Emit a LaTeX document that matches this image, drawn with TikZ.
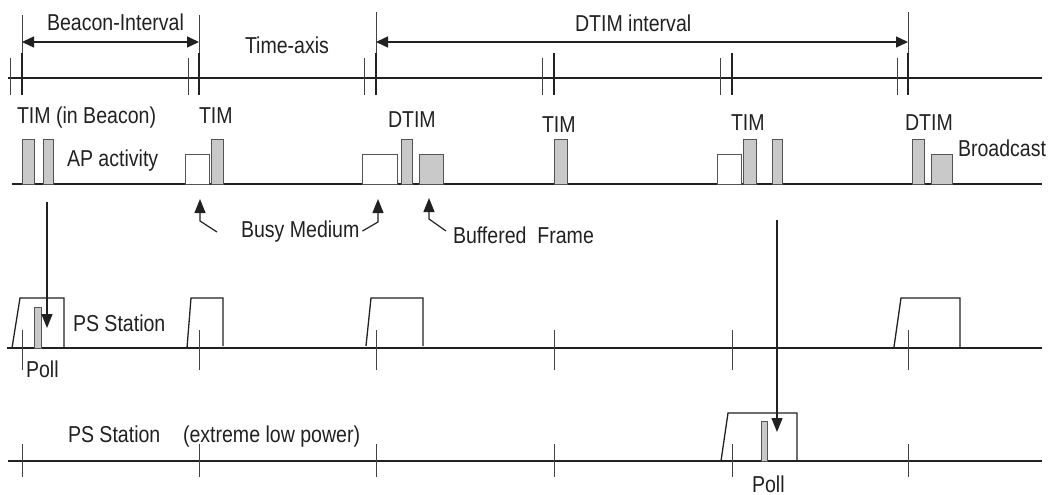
\documentclass[tikz,border=0pt]{standalone}
\usepackage{fontspec}
\setmainfont{Liberation Sans}[FakeStretch=0.85]
\usetikzlibrary{arrows.meta}
\definecolor{inkgray}{gray}{0.13}
\definecolor{barfill}{gray}{0.79}
\definecolor{baredge}{gray}{0.33}

\begin{document}
\begin{tikzpicture}[
    x=1pt, y=-1pt,
    every node/.style={font=\fontsize{23}{26}\selectfont, inner sep=0pt, outer sep=0pt, text=inkgray},
    axisline/.style ={draw=inkgray, line width=1.6pt},
    tickthin/.style ={draw=inkgray!85, line width=0.9pt},
    tickthick/.style={draw=inkgray, line width=1.8pt},
    timbar/.style   ={draw=baredge, fill=barfill, line width=0.9pt, anchor=south west, minimum height=45pt},
    busybox/.style  ={draw=baredge, fill=white, line width=0.9pt, anchor=south west, minimum height=30pt},
    framebox/.style ={draw=baredge, fill=barfill, line width=0.9pt, anchor=south west, minimum height=30pt},
    pollbar/.style  ={draw=baredge, fill=barfill, line width=0.9pt, anchor=south west},
    wake/.style     ={draw=inkgray, line width=1.3pt},
    pointer/.style  ={-{Triangle[length=14pt, width=11pt]}, draw=inkgray, line width=1.2pt},
    span/.style     ={{Triangle[length=12pt, width=11pt]}-{Triangle[length=12pt, width=11pt]}, draw=inkgray, line width=1.4pt},
    lbl/.style      ={anchor=base west}
]
\useasboundingbox (0,0) rectangle (1050,495);

% ========== TIME AXIS ==========
\coordinate (b1) at (22,78);
\coordinate (b2) at (199,78);
\coordinate (b3) at (376,78);
\coordinate (b4) at (554,78);
\coordinate (b5) at (732,78);
\coordinate (b6) at (908,78);
\draw[axisline] (8,78) -- (1042,78);
\foreach \a/\i in {10/1,188/2,364/3,542/4,720/5,897/6} {
  \draw[tickthin] (\a,58) -- (\a,95);
  \draw[tickthick] ([yshift=25pt]b\i) -- ([yshift=-17pt]b\i);
}
% interval boundaries
\draw[tickthin] ([yshift=63pt]b1) -- ([yshift=25pt]b1);
\draw[tickthin] ([yshift=63pt]b2) -- ([yshift=25pt]b2);
\draw[tickthin] ([yshift=66pt]b3) -- ([yshift=25pt]b3);
\draw[tickthin] ([yshift=66pt]b6) -- ([yshift=25pt]b6);
\draw[span] ([yshift=36pt]b1) -- ([yshift=36pt]b2);
\draw[span] ([yshift=36pt]b3) -- ([yshift=36pt]b6);

\node[lbl] (bilbl)   at (47,31)  {Beacon-Interval};
\node[lbl] (axislbl) at (245,54) {Time-axis};
\node[lbl] (dtimlbl) at (575,32) {DTIM interval};

% ========== AP ACTIVITY ==========
\draw[axisline] (12,184) -- (1042,184);
\node[timbar, minimum width=12pt] (tim1)  at (22,184)  {};
\node[timbar, minimum width=10pt] (tim1b) at (43,184)  {};
\node[busybox, minimum width=24pt] (busy1) at (185,184) {};
\node[timbar, minimum width=12pt] (tim2)  at (211,184) {};
\node[busybox, minimum width=35pt] (busy2) at (362,184) {};
\node[timbar, minimum width=11pt] (dtim1) at (401,184) {};
\node[framebox, minimum width=24pt] (buf1) at (419,184) {};
\node[timbar, minimum width=13pt] (tim3)  at (554,184) {};
\node[busybox, minimum width=24pt] (busy3) at (717,184) {};
\node[timbar, minimum width=13pt] (tim4)  at (743,184) {};
\node[timbar, minimum width=10pt] (tim4b) at (772,184) {};
\node[timbar, minimum width=12pt] (dtim2) at (912,184) {};
\node[framebox, minimum width=21pt] (bcast) at (931,184) {};

\node[lbl] (timlbl1)  at (17,124)  {TIM (in Beacon)};
\node[lbl] (timlbl2)  at (199,124) {TIM};
\node[lbl] (aplbl)    at (67,166)  {AP activity};
\node[lbl] (dtimlbl1) at (388,127) {DTIM};
\node[lbl] (timlbl3)  at (542,132) {TIM};
\node[lbl] (timlbl4)  at (731,130) {TIM};
\node[lbl] (dtimlbl2) at (905,130) {DTIM};
\node[lbl] (bcastlbl) at (958,156) {Broadcast};

% pointers to the medium
\node[lbl] (busylbl) at (241,237) {Busy Medium};
\node[lbl] (buflbl)  at (453,243) {Buffered\ \ Frame};
\coordinate (busytail1) at (217,232);
\coordinate (busybend1) at (200,221);
\coordinate (busybend2) at (378,222);
\coordinate (buftail)   at (446,231);
\coordinate (bufbend)   at (429,219);
\draw[pointer, shorten >=15pt] (busytail1) -- (busybend1) -- (busybend1 |- busy1.south);
\draw[pointer, shorten >=15pt] ([xshift=3pt]busylbl.east) -- (busybend2) -- (busybend2 |- busy2.south);
\draw[pointer, shorten >=14pt] (buftail) -- (bufbend) -- (bufbend |- buf1.south);

% ========== PS STATION ==========
\draw[axisline] (7,348) -- (1042,348);
\foreach \i in {1,...,6}
  \draw[tickthin] (b\i |- 0,330) -- (b\i |- 0,370);
\draw[wake] (12,348) -- (20,298) -- (64,298) -- (64,348);
\draw[wake] (187,348) -- (191,298) -- (223,298) -- (223,346);
\draw[wake] (366,346) -- (371,298) -- (423,298) -- (423,346);
\draw[wake] (894,347) -- (901,298) -- (960,298) -- (960,348);
\node[pollbar, minimum width=7pt, minimum height=41pt] (poll1) at (34,348) {};
\node[lbl] (pslbl1)   at (73,331) {PS Station};
\node[lbl] (polllbl1) at (26,377) {Poll};
\coordinate (poll1tip) at (47,328);
\draw[pointer, shorten <=18pt] (tim1b.south -| poll1tip) -- (poll1tip);

% ========== PS STATION (extreme low power) ==========
\draw[axisline] (8,461) -- (1042,461);
\foreach \i in {1,...,6}
  \draw[tickthin] (b\i |- 0,444) -- (b\i |- 0,477);
\draw[wake] (721,461) -- (728,413) -- (797,413) -- (797,461);
\node[pollbar, minimum width=6pt, minimum height=40pt] (poll2) at (761,461) {};
\node[lbl] (pslbl2)  at (68,442)  {PS Station};
\node[lbl] (lowlbl)  at (183,442) {(extreme low power)};
\node[lbl] (polllbl2) at (752,492) {Poll};
\coordinate (poll2tip) at (777,432);
\draw[pointer, shorten <=36pt] (tim4b.south -| poll2tip) -- (poll2tip);

\end{tikzpicture}
\end{document}
